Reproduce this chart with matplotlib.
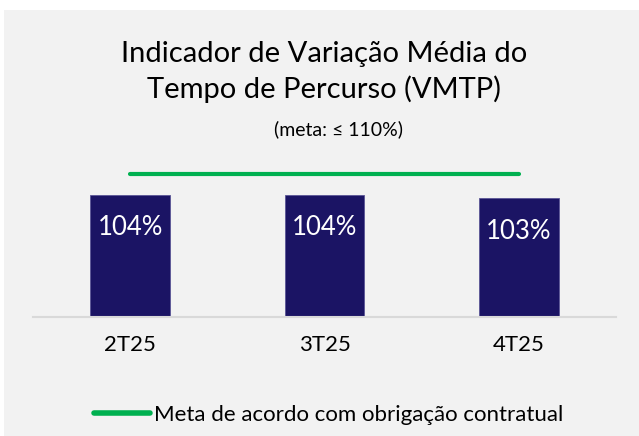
import matplotlib

matplotlib.use("Agg")
import matplotlib.pyplot as plt
from matplotlib.lines import Line2D
from matplotlib.patches import Rectangle

CATEGORIES = ["2T25", "3T25", "4T25"]
VMTP_VALUES = [104, 104, 103]
META_VALUES = [110, 110, 110]

TITLE = "Indicador de Variação Média do\nTempo de Percurso (VMTP)"
SUBTITLE = "(meta: ≤ 110%)"
META_LABEL = "Meta de acordo com obrigação contratual"

BAR_COLOUR = "#1b1464"
META_COLOUR = "#00b050"
BG_COLOUR = "#f2f2f2"

plt.rcParams["font.family"] = ["Lato", "DejaVu Sans"]


def main() -> None:
    W, H = 639, 436
    fig = plt.figure(figsize=(W / 100, H / 100), dpi=100, facecolor="white")

    # grey panel, with a thin white strip on top and left
    fig.patches.append(
        Rectangle((4 / W, 0), 1, 426 / H, transform=fig.transFigure,
                  facecolor=BG_COLOUR, edgecolor="none", zorder=-10)
    )

    ax = fig.add_axes([33 / W, (H - 317) / H, 583 / W, 157 / H])
    ax.set_facecolor("none")

    x = list(range(len(CATEGORIES)))
    ax.bar(x, VMTP_VALUES, width=0.41, color=BAR_COLOUR,
           edgecolor="#5a5596", linewidth=0.6, zorder=2)
    ax.plot(x, META_VALUES, color=META_COLOUR, linewidth=3,
            solid_capstyle="round", zorder=3)

    for xi, v in zip(x, VMTP_VALUES):
        ax.annotate(f"{v}%", (xi, v), xytext=(0, -24), textcoords="offset points",
                    ha="center", va="center", color="white", fontsize=18.5)

    ax.set_xlim(-0.5, 2.5)
    ax.set_ylim(68, 68 + 157 / 3.4)
    ax.set_xticks(x, CATEGORIES, fontsize=16)
    ax.set_yticks([])
    ax.tick_params(axis="x", length=0, pad=13)
    for side in ["top", "right", "left"]:
        ax.spines[side].set_visible(False)
    ax.spines["bottom"].set_color("#d9d9d9")
    ax.spines["bottom"].set_linewidth(1.5)

    fig.text(324 / W, 1 - 72 / H, TITLE, ha="center", va="center",
             fontsize=21, linespacing=1.4)
    fig.text(338 / W, 1 - 129 / H, SUBTITLE, ha="center", va="center",
             fontsize=14)

    handle = Line2D([], [], color=META_COLOUR, linewidth=4, solid_capstyle="round")
    fig.legend([handle], [META_LABEL], loc="center",
               bbox_to_anchor=(329 / W, 1 - 415 / H), frameon=False,
               fontsize=16, handlelength=2.5, handletextpad=0.2)

    fig.savefig("out.png", dpi=100, facecolor=fig.get_facecolor())
    plt.close(fig)


if __name__ == "__main__":
    main()
